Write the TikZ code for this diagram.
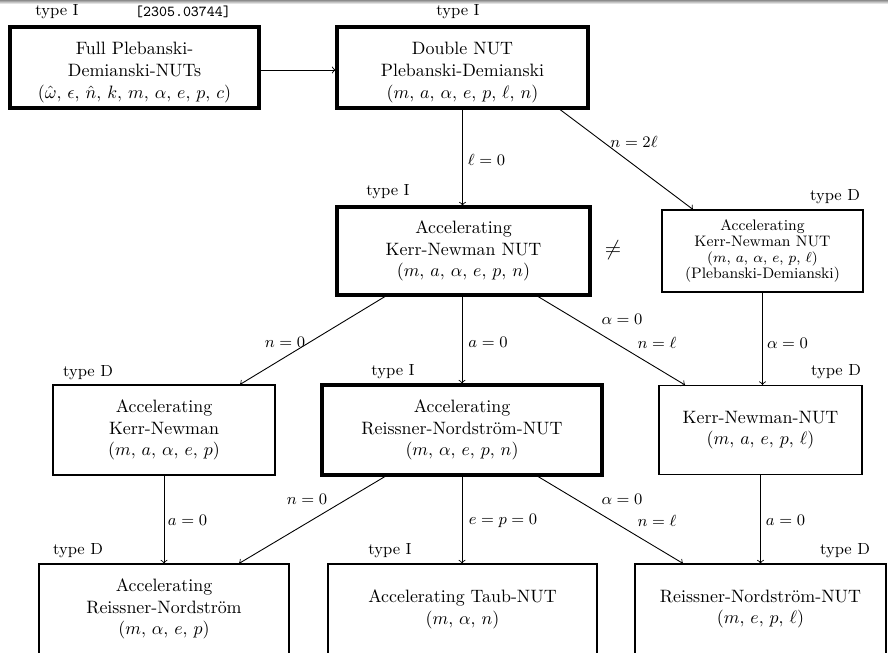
\documentclass[tikz,border=0pt]{standalone}
\usepackage{fontspec}
\usetikzlibrary{calc}
\tikzset{
  x=0.5587pt, y=-0.5587pt,
  sz/.style 2 args={minimum width={#1*0.5587pt}, minimum height={#2*0.5587pt}},
  box/.style={draw, line width=0.6pt, inner sep=0pt, align=center, font=\fontsize{10}{12.1}\selectfont},
  thickbox/.style={box, line width=1.7pt},
  smallbox/.style={box, font=\fontsize{8.5}{9}\selectfont},
  typ/.style={font=\fontsize{9}{10}\selectfont, inner sep=0pt},
  lbl/.style={font=\fontsize{9.5}{11}\selectfont, inner sep=0pt},
  arr/.style={->, line width=0.5pt},
}
\newcommand\topstrut{\rule{0pt}{12.5pt}}
\begin{document}
\begin{tikzpicture}
\useasboundingbox (0,0) rectangle (888,652);
\clip (0,0) rectangle (888,652);
\shade[top color=black!45, bottom color=white] (0,0) rectangle (888,4);

% boxes
\node[thickbox, sz={249}{81}] (b1) at (134.5,67.5) {\topstrut Full Plebanski-\\Demianski-NUTs\\$(\hat\omega,\,\epsilon,\,\hat n,\,k,\,m,\,\alpha,\,e,\,p,\,c)$};
\node[thickbox, sz={251}{81}] (b2) at (462.5,67.5) {\topstrut Double NUT\\Plebanski-Demianski\\$(m,\,a,\,\alpha,\,e,\,p,\,\ell,\,n)$};
\node[thickbox, sz={253}{88}] (b3) at (463.5,251) {Accelerating\\Kerr-Newman NUT\\$(m,\,a,\,\alpha,\,e,\,p,\,n)$};
\node[smallbox, sz={201}{82}] (b4) at (762.5,251) {Accelerating\\Kerr-Newman NUT\\$(m,\,a,\,\alpha,\,e,\,p,\,\ell)$\\(Plebanski-Demianski)};
\node[box, sz={222}{90}] (b5) at (164,430) {Accelerating\\Kerr-Newman\\$(m,\,a,\,\alpha,\,e,\,p)$};
\node[thickbox, sz={280}{90}] (b6) at (462,430) {Accelerating\\Reissner-Nordstr\"om-NUT\\$(m,\,\alpha,\,e,\,p,\,n)$};
\node[box, sz={203}{89}] (b7) at (760.5,430) {Kerr-Newman-NUT\\$(m,\,a,\,e,\,p,\,\ell)$};
\node[box, sz={250}{90}] (b8) at (164,609) {Accelerating\\Reissner-Nordstr\"om\\$(m,\,\alpha,\,e,\,p)$};
\node[box, sz={269}{90}] (b9) at (462.5,609) {Accelerating Taub-NUT\\$(m,\,\alpha,\,n)$};
\node[box, sz={251}{90}] (b10) at (760.5,609) {Reissner-Nordstr\"om-NUT\\$(m,\,e,\,p,\,\ell)$};

% type labels
\node[typ] (t1) at (57,12) {type I};
\node[typ, font=\fontsize{8.5}{10}\ttfamily] (ref) at (183,12) {[2305.03744]};
\node[typ] (t2) at (458,12) {type I};
\node[typ] (t3) at (388,192) {type I};
\node[typ] (t4) at (835,197) {type D};
\node[typ] (t5) at (88,373) {type D};
\node[typ] (t6) at (393,372) {type I};
\node[typ] (t7) at (836,372) {type D};
\node[typ] (t8) at (78,551) {type D};
\node[typ] (t9) at (390,551) {type I};
\node[typ] (t10) at (845,551) {type D};
\node[inner sep=0pt, font=\fontsize{12}{14}\selectfont] (neq) at (613,250) {$\neq$};

% connectors
\draw[arr] ($(b1.east)+(0,2.5)$) -- ($(b2.west)+(0,2.5)$);
\draw[arr] (b2.south) -- node[lbl, shift={(24,2.5)}] {$\ell=0$} (b2.south |- b3.north);
\draw[arr] ($(b2.south)+(97.5,0)$) -- node[lbl, shift={(7.5,-18)}] {$n=2\ell$} ($(b4.north)+(-69.5,0)$);
\draw[arr] ($(b3.south)+(-78.5,0)$) -- node[lbl, shift={(-27.5,2)}] {$n=0$} ($(b5.north)+(76,0)$);
\draw[arr] (b3.south -| b6.north) -- node[lbl, shift={(26,2)}] {$a=0$} (b6.north);
\draw[arr] ($(b3.south)+(74.5,0)$) -- node[lbl, shift={(10.5,-21)}] {$\alpha=0$} node[lbl, shift={(45.5,2)}] {$n=\ell$} ($(b7.north)+(-75.5,0)$);
\draw[arr] (b4.south) -- node[lbl, shift={(25,4.5)}] {$\alpha=0$} (b4.south |- b7.north);
\draw[arr] (b5.south) -- node[lbl, shift={(23.5,0.5)}] {$a=0$} (b8.north);
\draw[arr] ($(b6.south)+(-77,0)$) -- node[lbl, shift={(-5,-20.5)}] {$n=0$} ($(b8.north)+(75,0)$);
\draw[arr] (b6.south) -- node[lbl, shift={(41,0.5)}] {$e=p=0$} (b6.south |- b9.north);
\draw[arr] ($(b6.south)+(76,0)$) -- node[lbl, shift={(11.5,-20.5)}] {$\alpha=0$} node[lbl, shift={(46.5,0.5)}] {$n=\ell$} ($(b10.north)+(-77.5,0)$);
\draw[arr] (b7.south) -- node[lbl, shift={(25,1)}] {$a=0$} (b7.south |- b10.north);
\end{tikzpicture}
\end{document}
